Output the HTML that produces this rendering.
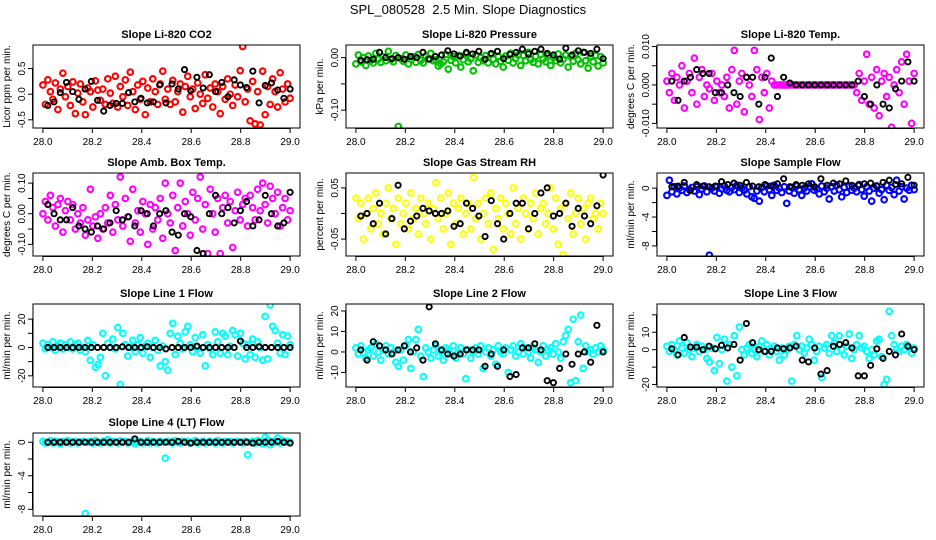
<!DOCTYPE html>
<html><head><meta charset="utf-8">
<style>
html,body{margin:0;padding:0;background:#fff;}
svg{display:block;font-family:"Liberation Sans",sans-serif;}
</style></head>
<body>
<svg id="fig" width="936" height="540" viewBox="0 0 936 540">
<text x="468" y="14" text-anchor="middle" font-size="13">SPL_080528&#160; 2.5 Min. Slope Diagnostics</text>
</svg>
<script>
// ---- data ----
const xTicks = [28.0, 28.2, 28.4, 28.6, 28.8, 29.0];
const xTickLabels = ["28.0","28.2","28.4","28.6","28.8","29.0"];

const co2Color = [0.18,-0.2,0.28,0.05,-0.1,0.22,-0.3,0.1,0.41,-0.05,0.15,-0.22,0.24,-0.38,0.02,0.2,-0.15,-0.4,0.12,0.05,-0.25,0.26,0.08,-0.12,0.1,-0.2,0.3,0.02,-0.18,0.35,-0.25,0.15,-0.05,0.28,-0.22,0.43,0.05,-0.3,0.18,-0.1,0.25,-0.4,0.12,-0.15,0.3,0.05,-0.2,0.2,0.45,-0.1,0.1,-0.2,0.27,-0.15,0.05,0.2,-0.35,0.15,0.35,-0.05,0.1,-0.28,0.22,0.0,-0.18,0.38,-0.08,0.12,-0.25,0.2,0.05,-0.38,0.15,-0.1,0.3,0.0,-0.22,0.18,-0.05,0.46,0.93,-0.15,0.1,-0.52,0.25,-0.58,0.05,-0.6,0.45,-0.4,0.15,-0.2,0.3,0.05,-0.25,0.42,0.1,-0.15,0.2,-0.08];
const co2Black = [-0.22,-0.15,0.03,0.23,0.05,-0.1,0.1,0.25,-0.12,-0.33,-0.22,-0.18,-0.18,0.03,-0.15,-0.08,-0.17,-0.15,0.18,-0.17,0.2,0.1,0.48,0.07,0.33,0.12,0.38,0.05,0.23,-0.05,0.28,0.18,0.13,0.45,-0.17,0.17,0.22,0.08,-0.08,0.1];

const presColor = [-0.012,0.005,-0.008,0.0,-0.015,0.003,-0.005,-0.01,0.008,-0.003,-0.009,0.002,-0.006,0.012,-0.004,-0.008,0.004,-0.131,-0.002,-0.007,0.005,-0.012,-0.003,0.002,-0.009,0.006,-0.005,-0.01,0.003,-0.002,0.008,-0.006,-0.004,-0.016,-0.012,-0.008,0.006,-0.022,-0.005,0.002,-0.01,0.004,-0.018,-0.004,0.007,-0.008,-0.002,-0.025,0.005,-0.009,0.0,-0.006,0.004,-0.01,0.006,-0.003,-0.012,0.002,-0.007,-0.018,0.003,-0.005,0.008,-0.01,-0.002,0.005,-0.015,0.004,-0.006,0.01,-0.004,-0.009,0.002,-0.012,0.006,-0.003,-0.008,0.004,-0.015,0.0,-0.006,0.007,-0.01,-0.003,0.005,-0.018,0.002,-0.007,0.008,-0.004,-0.012,0.01,-0.006,-0.02,0.003,-0.008,0.004,-0.016,0.002,-0.01];
const presBlack = [-0.005,-0.004,-0.003,0.01,0.0,-0.002,0.0,-0.003,0.002,0.0,0.01,-0.003,0.002,0.005,0.013,0.007,0.003,0.01,0.007,0.012,-0.003,0.008,0.012,-0.002,0.006,0.01,0.016,0.007,0.012,0.016,0.008,0.005,-0.003,0.018,0.005,0.013,0.01,0.008,0.016,-0.002];

const tempColor = [0.001,-0.002,0.003,-0.004,0.002,0.0,0.005,-0.006,0.001,0.003,-0.002,0.007,-0.005,0.002,0.004,-0.003,0.0,-0.001,0.003,-0.004,0.001,-0.002,0.0,-0.003,0.002,-0.006,0.004,0.009,-0.005,0.001,0.003,-0.007,0.002,0.0,-0.003,0.009,0.004,-0.009,0.002,-0.002,0.003,-0.006,0.001,0,0,0,0,0,0,0,0,0,0,0,0,0,0,0,0,0,0,0,0,0,0,0,0,0,0,0,0,0,0,0,0,0,-0.002,0.003,-0.004,0.001,0.008,-0.005,0.002,-0.006,0.004,-0.008,0.001,0.003,-0.003,0.002,-0.011,0.0,0.004,-0.002,0.006,-0.005,0.008,0.001,-0.01,0.003];
const tempBlack = [0.001,-0.004,0.001,0.002,0.004,0.003,0.003,-0.002,-0.002,0.0,-0.002,-0.003,0.002,0.002,-0.005,0.002,0.007,-0.003,0.002,0.0005,0,0,0,0,0,0,0,0,0,0,0.001,-0.003,-0.005,0.0,-0.005,-0.006,-0.001,0.001,0.006,0.001];

const ambColor = [0.0,0.04,-0.02,0.06,0.02,-0.04,0.03,0.05,-0.06,0.01,0.04,-0.02,0.03,-0.05,0.0,-0.03,0.02,-0.07,-0.02,0.08,-0.04,-0.01,-0.08,0.0,-0.05,0.02,-0.03,0.06,-0.06,0.03,-0.02,0.12,-0.04,0.05,-0.01,-0.09,0.08,-0.03,0.01,-0.06,0.04,0.0,-0.1,0.03,-0.05,0.02,-0.02,0.05,-0.08,0.1,0.0,-0.03,0.06,-0.12,0.02,0.1,-0.04,0.04,0.0,-0.07,0.07,-0.02,0.05,0.12,-0.05,0.03,-0.13,0.08,0.0,-0.06,0.05,-0.13,0.02,0.06,-0.03,0.04,-0.11,0.01,0.07,-0.02,0.03,0.05,-0.04,0.06,0.02,-0.02,0.08,0.01,0.1,0.03,-0.03,0.09,0.05,0.0,0.07,-0.04,0.02,0.05,-0.02,0.01];
const ambBlack = [0.03,0.0,-0.02,-0.02,0.02,-0.04,-0.05,-0.06,-0.04,-0.05,-0.03,0.01,-0.02,-0.01,-0.04,0.01,0.0,-0.04,0.0,0.01,-0.06,-0.07,0.0,-0.01,-0.12,-0.13,0.0,0.06,0.0,0.02,-0.03,0.01,0.04,-0.04,-0.02,0.06,0.0,-0.04,-0.03,0.07];

const rhColor = [0.03,-0.01,0.02,-0.05,0.0,0.03,-0.03,0.01,0.04,-0.02,0.0,-0.04,0.02,0.05,-0.01,0.01,-0.06,0.03,-0.02,0.0,0.02,-0.03,0.04,-0.01,0.01,-0.04,0.03,0.0,-0.02,0.02,-0.05,0.01,0.06,-0.01,0.03,-0.03,0.0,0.04,-0.06,0.02,-0.02,0.01,0.03,-0.04,0.0,0.02,-0.03,0.07,-0.01,0.02,-0.05,0.0,0.03,-0.02,0.04,-0.07,0.01,-0.01,0.03,-0.03,0.02,0.0,-0.04,0.05,-0.02,0.01,-0.05,0.03,0.0,-0.03,0.02,-0.01,0.04,-0.04,0.01,0.02,-0.02,0.0,0.05,-0.03,0.03,-0.06,0.01,-0.08,0.02,-0.01,0.04,-0.04,0.0,0.03,-0.02,0.01,-0.05,0.02,0.03,-0.01,0.0,-0.03,0.02,0.0];
const rhBlack = [-0.005,0.0,-0.02,0.02,-0.04,-0.01,0.055,-0.03,-0.015,-0.005,0.01,0.005,0.0,0.0,0.005,-0.025,-0.02,0.02,0.01,-0.005,-0.045,0.025,-0.02,-0.05,0.0,0.02,0.02,-0.03,0.0,0.04,0.05,-0.005,0.0,0.02,-0.025,0.01,-0.005,-0.02,0.015,0.075];

const flowColor = [-1.0,1.1,-0.5,0.2,-0.8,0.0,-0.3,0.3,-0.6,-0.2,0.1,-0.4,0.2,-0.9,-0.1,0.3,-0.5,-9.3,0.0,-0.4,0.2,-0.7,-0.1,0.3,-0.3,-0.5,0.1,-0.2,0.4,-0.6,0.0,-0.3,-0.8,0.2,-1.2,-1.4,-0.4,-1.8,0.1,-0.5,0.3,-0.2,-1.0,0.4,-0.3,0.0,-0.6,0.2,-2.1,-0.4,0.1,-0.7,0.3,-0.2,-1.0,0.0,-0.4,0.2,0.6,-0.3,-0.1,-0.8,0.3,-0.5,0.0,-1.5,0.2,-0.4,0.4,-0.2,-1.2,0.1,-0.6,0.3,-0.3,0.0,-0.5,0.5,-0.2,-1.1,0.2,-0.4,-1.8,0.0,0.3,-0.7,-0.2,-1.6,0.4,-0.3,0.1,-0.9,1.1,-0.4,0.2,-1.5,0.0,-0.3,0.4,-0.2];
const flowBlack = [0.2,0.3,0.8,-0.3,0.5,0.3,0.2,0.3,0.9,0.5,0.7,0.4,0.8,0.3,0.2,0.5,0.3,0.6,1.3,0.2,0.5,0.4,0.6,0.2,1.3,0.4,0.7,0.6,1.0,0.4,0.4,0.6,0.7,0.3,0.8,1.1,0.5,0.6,1.5,0.4];

const l1Color = [3,-1,2,0,4,-2,1,3,-1,2,0,4,-1,2,3,-2,0,-3,5,-9,2,-14,-12,-7,10,-20,3,0,6,-1,14,-26,10,2,-6,0,5,-3,2,7,-4,1,3,-7,0,5,-2,-13,1,-10,-16,10,17,-5,8,3,-1,11,15,2,-3,7,0,-4,9,-13,2,-1,-5,11,4,-4,10,8,-5,1,12,9,-6,10,3,-8,2,-5,6,-7,4,0,-9,22,-8,30,15,12,3,-4,9,-5,8,2];
const l1Black = [0,0,0,0,0,0,0,0,0,0,0,0,0.5,0,0,0,0.5,0,0,-1,0,0,0,0,1,0,0,0,0,0,0,4.5,0,0,0.5,0,0,0,0,0];

const l2Color = [2,-1,3,0,-3,1,2,-2,4,0,-4,1,3,-1,2,0,-5,-7,1,-4,3,6,-8,0,6,11,-2,-12,2,0,-3,1,3,-2,0,-4,2,1,-1,3,-3,0,2,-1,-13,1,-3,0,2,-1,3,-8,0,2,-2,1,-6,3,0,-1,2,-10,1,3,-2,0,4,-1,2,0,-3,2,1,-5,0,3,-2,1,2,-1,4,0,-3,5,8,11,-15,16,-14,5,18,-8,3,0,1,-1,2,0,3,1];
const l2Black = [1,-4,5,3,1,-1,1,3,0,2,-4,22,4,1,-1,-2,-1,1,1,1,-7,-1,-7,1,-12,-11,2,2,4,1,-14,-15,-8,-1,-6,-1,0,-5,13,0];

const l3Color = [2,-1,3,0,-3,5,1,-2,4,0,-4,1,3,-1,2,0,-5,-7,1,-12,7,-8,0,6,-18,3,-10,8,-15,13,0,-3,1,3,-2,0,-4,2,5,-1,3,-3,0,2,-1,-6,1,-3,0,2,-18,3,8,0,2,-2,1,6,3,-6,-1,2,-16,1,3,-2,8,4,-1,8,0,-3,2,9,-5,0,3,8,1,2,-1,-5,0,-3,5,6,-4,-20,-17,22,8,3,0,-1,2,0,3,1,-2,1];
const l3Black = [0.5,-3,7,1.5,1.5,0,2,0.5,2.5,1,3,-6,15,4,0,-1,-1,1,0.5,1,2,-6,-7,1,-14,-12,2,3,4,1,-15,-15,-9,0.5,-5,-1,-3,9,2,0];

const l4Color = [0.1,-0.1,0.0,0.2,-0.1,0.1,0.0,-0.2,0.1,0.0,0.2,-0.1,0.0,0.1,-0.1,0.0,0.1,-8.5,0.0,0.1,-0.1,0.2,0.0,-0.1,0.1,0.0,0.3,-0.1,0.1,0.0,-0.1,0.2,0.0,0.1,-0.1,0.0,0.1,-0.2,0.0,0.1,-0.1,0.0,0.2,-0.1,0.1,0.0,-0.1,0.1,0.0,-1.9,0.1,0.0,-0.1,0.2,0.0,-0.1,0.1,0.0,0.1,-0.1,0.0,0.2,-0.1,0.0,0.1,-0.1,0.0,0.1,0.0,-0.1,0.2,0.0,-0.1,0.1,0.0,0.1,-0.1,0.0,0.1,0.0,-0.1,0.1,-1.5,0.0,0.1,-0.1,0.2,0.0,-0.2,0.6,0.3,-0.3,0.1,0.0,0.5,-0.1,0.2,0.0,0.1,0.0];
const l4Black = [0,0,0,0,0,0,0,0,0,0,0,0,0,0,0.4,0,0,0,0,0,0,0.1,0,-0.1,0,0,0,0,0,0,0,0,0,-0.1,0,0,0,0.1,0,-0.1];

// ---- panels ----
const panels = [
 {name:"co2",title:"Slope Li-820 CO2",ylab:"Licor ppm per min.",col:0,row:0,ylim:[-0.66,0.96],ticks:[-0.5,0,0.5],labels:["-0.5","0.0","0.5"],color:"#ff0000",c:co2Color,b:co2Black},
 {name:"pressure",title:"Slope Li-820 Pressure",ylab:"kPa per min.",col:1,row:0,ylim:[-0.134,0.024],ticks:[-0.10,-0.05,0.0],labels:["-0.10","","0.00"],color:"#00c000",c:presColor,b:presBlack},
 {name:"li820-temp",title:"Slope Li-820 Temp.",ylab:"degrees C per min.",col:2,row:0,ylim:[-0.0112,0.0104],ticks:[-0.01,-0.005,0,0.005,0.01],labels:["-0.010","","0.000","","0.010"],color:"#ff00ff",c:tempColor,b:tempBlack},
 {name:"amb-box-temp",title:"Slope Amb. Box Temp.",ylab:"degrees C per min.",col:0,row:1,ylim:[-0.138,0.133],ticks:[-0.1,-0.05,0,0.05,0.1],labels:["-0.10","","0.00","","0.10"],color:"#ff00ff",c:ambColor,b:ambBlack},
 {name:"gas-stream-rh",title:"Slope Gas Stream RH",ylab:"percent per min.",col:1,row:1,ylim:[-0.083,0.079],ticks:[-0.05,0,0.05],labels:["-0.05","","0.05"],color:"#ffff00",c:rhColor,b:rhBlack},
 {name:"sample-flow",title:"Slope Sample Flow",ylab:"ml/min per min.",col:2,row:1,ylim:[-9.4,2.1],ticks:[-8,-6,-4,-2,0],labels:["-8","","-4","","0"],color:"#0000ff",c:flowColor,b:flowBlack},
 {name:"line1-flow",title:"Slope Line 1 Flow",ylab:"ml/min per min.",col:0,row:2,ylim:[-27.9,30.7],ticks:[-20,-10,0,10,20],labels:["-20","","0","","20"],color:"#00ffff",c:l1Color,b:l1Black},
 {name:"line2-flow",title:"Slope Line 2 Flow",ylab:"ml/min per min.",col:1,row:2,ylim:[-17.1,23.4],ticks:[-10,0,10,20],labels:["-10","0","10","20"],color:"#00ffff",c:l2Color,b:l2Black},
 {name:"line3-flow",title:"Slope Line 3 Flow",ylab:"ml/min per min.",col:2,row:2,ylim:[-21.4,26.2],ticks:[-20,-10,0,10,20],labels:["-20","","0","10",""],color:"#00ffff",c:l3Color,b:l3Black},
 {name:"line4-flow",title:"Slope Line 4 (LT) Flow",ylab:"ml/min per min.",col:0,row:3,ylim:[-8.8,1.1],ticks:[-8,-6,-4,-2,0],labels:["-8","","-4","","0"],color:"#00ffff",c:l4Color,b:l4Black}
];

const NS = "http://www.w3.org/2000/svg";
const svg = document.getElementById("fig");
const colLeft = [33, 346, 657];
const rowTop = [45, 173, 304, 433];
const PW = 267, PH = 83;
const XMIN = 27.96, XMAX = 29.04;

function mk(tag, attrs, parent){
  const e = document.createElementNS(NS, tag);
  for (const k in attrs) e.setAttribute(k, attrs[k]);
  (parent||svg).appendChild(e);
  return e;
}

panels.forEach(p => {
  const L = colLeft[p.col], T = rowTop[p.row];
  const xs = v => L + (v - XMIN) / (XMAX - XMIN) * PW;
  const ys = v => T + PH - (v - p.ylim[0]) / (p.ylim[1] - p.ylim[0]) * PH;
  const g = mk("g", {});
  
  

  const t = mk("text", {x: L + PW/2, y: T - 7, "text-anchor":"middle", "font-size":"11", "font-weight":"bold"}, g);
  t.textContent = p.title;
  
  

  const cid = "clip-" + p.name;
  const cp = mk("clipPath", {id: cid}, g);
  mk("rect", {x: L, y: T, width: PW, height: PH}, cp);
  const pts = mk("g", {"clip-path": "url(#" + cid + ")"}, g);
  
  

  const n = p.c.length;
  p.c.forEach((v, i) => {
    const tv = 28.0 + i / (n - 1);
    const c = mk("circle", {cx: xs(tv), cy: ys(v), r: 2.8, fill: "none", stroke: p.color, "stroke-width": 2.1}, pts);
    
    
  });
  const m = p.b.length;
  p.b.forEach((v, i) => {
    const tv = 28.02 + i * 0.98 / (m - 1);
    const c = mk("circle", {cx: xs(tv), cy: ys(v), r: 2.6, fill: "none", stroke: "#000", "stroke-width": 1.9}, pts);
    
    
  });

  const box = mk("rect", {x: L, y: T, width: PW, height: PH, fill: "none", stroke: "#000", "stroke-width": 1}, g);
  
  

  const xa = mk("g", {}, g);
  
  
  const B = T + PH;
  mk("line", {x1: xs(xTicks[0]), x2: xs(xTicks[xTicks.length-1]), y1: B + 0.5, y2: B + 0.5, stroke: "#000"}, xa);
  xTicks.forEach((tv, i) => {
    mk("line", {x1: xs(tv), x2: xs(tv), y1: B, y2: B + 5, stroke: "#000"}, xa);
    const lb = mk("text", {x: xs(tv), y: B + 17, "text-anchor": "middle", "font-size": "10"}, xa);
    lb.textContent = xTickLabels[i];
    
    
  });

  const ya = mk("g", {}, g);
  
  
  mk("line", {x1: L - 0.5, x2: L - 0.5, y1: ys(p.ticks[0]), y2: ys(p.ticks[p.ticks.length-1]), stroke: "#000"}, ya);
  p.ticks.forEach((tv, i) => {
    mk("line", {x1: L - 5, x2: L, y1: ys(tv), y2: ys(tv), stroke: "#000"}, ya);
    if (p.labels[i]) {
      const lb = mk("text", {x: 0, y: 0, "text-anchor": "middle", "font-size": "10", transform: "translate(" + (L - 8) + "," + ys(tv) + ") rotate(-90)"}, ya);
      lb.textContent = p.labels[i];
      
      
    }
  });
  const yl = mk("text", {x: 0, y: 0, "text-anchor": "middle", "font-size": "10", transform: "translate(" + (L - 23) + "," + (T + PH/2) + ") rotate(-90)"}, ya);
  yl.textContent = p.ylab;
  
  
});
</script>
</body></html>
